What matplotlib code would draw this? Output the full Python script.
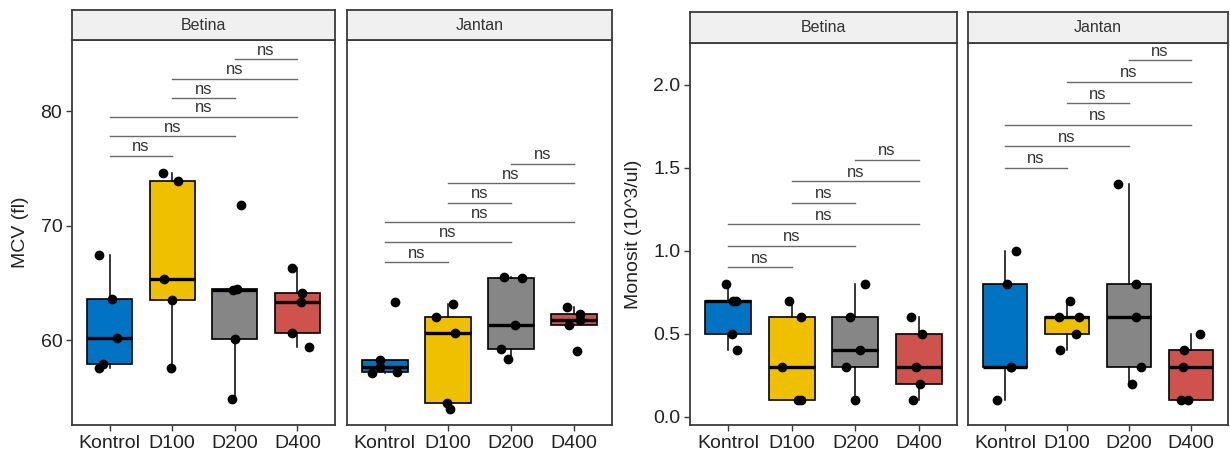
import numpy as np
import matplotlib.pyplot as plt

plt.rcParams['font.family'] = ['Liberation Sans', 'DejaVu Sans']

groups = ["Kontrol", "D100", "D200", "D400"]
colors = ["#0073C2", "#EFC000", "#868686", "#CD534C"]

# MCV (fl), five animals per group
mcv_betina = [[57.6, 57.9, 60.2, 63.6, 67.4],
              [57.6, 63.5, 65.3, 73.9, 74.6],
              [54.9, 60.1, 64.4, 64.45, 71.8],
              [59.4, 60.6, 63.3, 64.1, 66.3]]
mcv_jantan = [[57.1, 57.2, 57.7, 58.3, 63.3],
              [54.0, 54.5, 60.6, 62.0, 63.2],
              [58.4, 59.2, 61.3, 65.4, 65.5],
              [59.1, 61.3, 61.8, 62.3, 62.9]]

# Monosit (10^3/ul)
mono_betina = [[0.4, 0.5, 0.7, 0.7, 0.8],
               [0.1, 0.1, 0.3, 0.6, 0.7],
               [0.1, 0.3, 0.4, 0.6, 0.8],
               [0.1, 0.2, 0.3, 0.5, 0.6]]
mono_jantan = [[0.1, 0.3, 0.3, 0.8, 1.0],
               [0.4, 0.5, 0.6, 0.6, 0.7],
               [0.2, 0.3, 0.6, 0.8, 1.4],
               [0.1, 0.1, 0.3, 0.4, 0.5]]

# pairwise comparisons and the heights of their brackets
pairs = [(0, 1), (0, 2), (0, 3), (1, 2), (1, 3), (2, 3)]
labels = ["ns"] * 6
mcv_betina_brk = [76.1, 77.8, 79.5, 81.1, 82.8, 84.5]
mcv_jantan_brk = [66.8, 68.6, 70.3, 72.0, 73.7, 75.4]
mono_betina_brk = [0.90, 1.03, 1.16, 1.29, 1.42, 1.55]
mono_jantan_brk = [1.50, 1.63, 1.76, 1.89, 2.02, 2.15]

W, H = 1230, 458
fig = plt.figure(figsize=(W / 100, H / 100), dpi=100)
rng = np.random.default_rng(3)
edge = "#3a3a3a"


def px_axes(x0, x1, y0, y1):
    return fig.add_axes([x0 / W, 1 - y1 / H, (x1 - x0) / W, (y1 - y0) / H])


def panel(x0, x1, top, strip_h, bottom, data, brk, ylim, yticks, title, ylabel=None, yfmt="{:g}"):
    ax = px_axes(x0, x1, top + strip_h, bottom)
    pos = np.arange(1, 5)
    bp = ax.boxplot(data, positions=pos, widths=0.72, patch_artist=True,
                    showfliers=False, showcaps=False,
                    medianprops=dict(color="black", linewidth=2.4),
                    whiskerprops=dict(color="black", linewidth=1.1),
                    boxprops=dict(edgecolor="black", linewidth=1.2))
    for patch, c in zip(bp['boxes'], colors):
        patch.set_facecolor(c)
    for i, vals in enumerate(data):
        xs = pos[i] + rng.uniform(-0.2, 0.2, len(vals))
        ax.scatter(xs, vals, s=36, color="black", zorder=4)
    span = ylim[1] - ylim[0]
    for (a, b), y, lab in zip(pairs, brk, labels):
        ax.plot([pos[a], pos[b]], [y, y], color="#6a6a6a", linewidth=1)
        ax.text((pos[a] + pos[b]) / 2, y + span * 0.004, lab, ha="center", va="bottom",
                fontsize=12, color="#333333")
    ax.set_xlim(0.4, 4.6)
    ax.set_ylim(*ylim)
    ax.set_xticks(pos)
    ax.set_xticklabels(groups, fontsize=14, color="#222222")
    ax.tick_params(axis="both", length=4, width=1, color=edge, pad=3)
    if ylabel:
        ax.set_yticks(yticks)
        ax.set_yticklabels([yfmt.format(t) for t in yticks], fontsize=14, color="#222222")
        ax.set_ylabel(ylabel, fontsize=14, color="#222222", labelpad=8)
    else:
        ax.set_yticks([])
    for s in ax.spines.values():
        s.set_color(edge)
        s.set_linewidth(1.3)
    st = px_axes(x0, x1, top, top + strip_h)
    st.set_facecolor("#f0f0f0")
    st.set_xticks([])
    st.set_yticks([])
    for s in st.spines.values():
        s.set_color(edge)
        s.set_linewidth(1.3)
    st.text(0.5, 0.5, title, ha="center", va="center", fontsize=11.5, color="#333333",
            transform=st.transAxes)
    return ax


panel(72, 335, 10, 30, 425, mcv_betina, mcv_betina_brk, (52.6, 86.2), [60, 70, 80],
      "Betina", ylabel="MCV (fl)")
panel(347, 612, 10, 30, 425, mcv_jantan, mcv_jantan_brk, (52.6, 86.2), [60, 70, 80],
      "Jantan")
panel(690, 957, 12, 31, 425, mono_betina, mono_betina_brk, (-0.05, 2.253),
      [0.0, 0.5, 1.0, 1.5, 2.0], "Betina", ylabel="Monosit (10^3/ul)", yfmt="{:.1f}")
panel(968, 1228, 12, 31, 425, mono_jantan, mono_jantan_brk, (-0.05, 2.253),
      [0.0, 0.5, 1.0, 1.5, 2.0], "Jantan")

fig.savefig("out.png", dpi=100)
